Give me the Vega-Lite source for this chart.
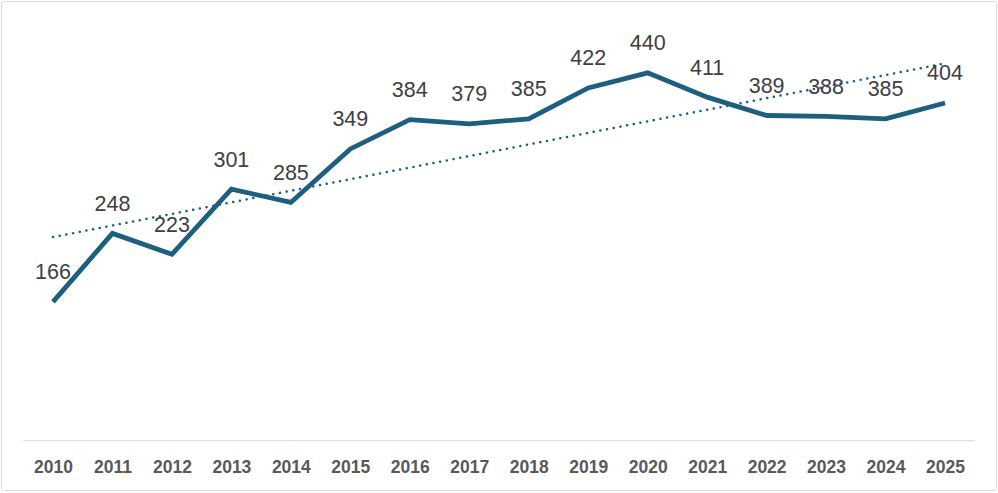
{
  "$schema": "https://vega.github.io/schema/vega-lite/v6.json",
  "autosize": "none",
  "padding": {"left": 1, "top": 1, "right": 2, "bottom": 3},
  "width": 995,
  "height": 489,
  "background": "white",
  "config": {
    "view": {"stroke": "#d9d9d9", "strokeWidth": 1, "cornerRadius": 2},
    "font": "Liberation Sans"
  },
  "datasets": {
    "series": [
      {"year": 2010, "value": 166},
      {"year": 2011, "value": 248},
      {"year": 2012, "value": 223},
      {"year": 2013, "value": 301},
      {"year": 2014, "value": 285},
      {"year": 2015, "value": 349},
      {"year": 2016, "value": 384},
      {"year": 2017, "value": 379},
      {"year": 2018, "value": 385},
      {"year": 2019, "value": 422},
      {"year": 2020, "value": 440},
      {"year": 2021, "value": 411},
      {"year": 2022, "value": 389},
      {"year": 2023, "value": 388},
      {"year": 2024, "value": 385},
      {"year": 2025, "value": 404}
    ],
    "baseline": [{"start": 2009.5, "end": 2025.5, "value": 0}]
  },
  "encoding": {
    "x": {
      "field": "year",
      "type": "quantitative",
      "scale": {"domain": [2009.126, 2025.857], "nice": false, "zero": false},
      "axis": {
        "title": null,
        "values": [2010, 2011, 2012, 2013, 2014, 2015, 2016, 2017, 2018, 2019, 2020, 2021, 2022, 2023, 2024, 2025],
        "format": "d",
        "domain": false,
        "ticks": false,
        "grid": false,
        "offset": -50,
        "labelPadding": 18,
        "labelFontSize": 17.5,
        "labelFontWeight": "bold",
        "labelColor": "#595959",
        "labelFont": "Liberation Sans"
      }
    },
    "y": {
      "field": "value",
      "type": "quantitative",
      "scale": {"domain": [-59, 526], "nice": false, "zero": false},
      "axis": null
    }
  },
  "layer": [
    {
      "data": {"name": "baseline"},
      "mark": {"type": "rule", "color": "#d9d9d9", "strokeWidth": 1},
      "encoding": {
        "x": {"field": "start", "type": "quantitative"},
        "x2": {"field": "end"},
        "y": {"field": "value", "type": "quantitative"}
      }
    },
    {
      "data": {"name": "series"},
      "transform": [{"regression": "value", "on": "year", "method": "linear"}],
      "mark": {"type": "line", "color": "#1d5f7f", "strokeWidth": 2.5, "strokeDash": [0.1, 6.7], "strokeCap": "round"}
    },
    {
      "data": {"name": "series"},
      "mark": {"type": "line", "color": "#1d5f7f", "strokeWidth": 4.8, "strokeJoin": "miter", "strokeCap": "butt"}
    },
    {
      "data": {"name": "series"},
      "mark": {"type": "text", "dy": -28.5, "baseline": "middle", "align": "center", "fontSize": 21.5, "color": "#404040"},
      "encoding": {"text": {"field": "value", "type": "quantitative"}}
    }
  ]
}
